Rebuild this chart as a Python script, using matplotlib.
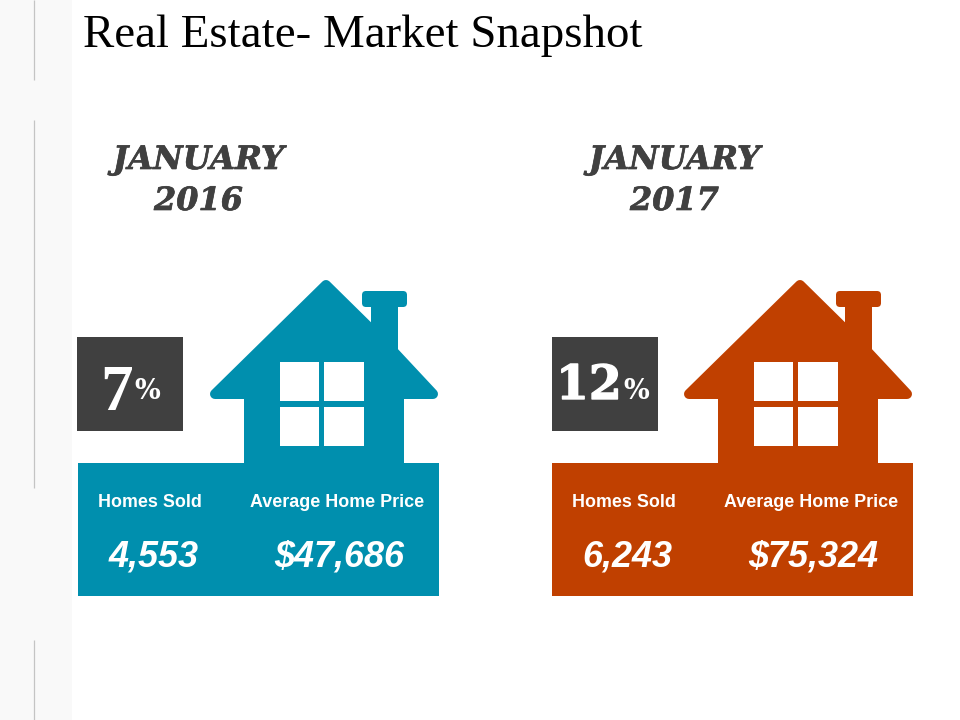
import matplotlib
matplotlib.use("Agg")
import matplotlib.pyplot as plt
from matplotlib.patches import Rectangle, Polygon, FancyBboxPatch
import matplotlib.patheffects as pe

title = "Real Estate- Market Snapshot"
months = ["JANUARY", "JANUARY"]
years = ["2016", "2017"]
percents = ["7", "12"]
homes_sold = ["4,553", "6,243"]
avg_price = ["$47,686", "$75,324"]
metric_labels = ["Homes Sold", "Average Home Price"]
colors = ["#008FAE", "#C04000"]
offsets = [0, 474]
heading_x = [198.5, 674.5]

DARK = "#404040"
SERIF = "Liberation Serif"
WIDE = "DejaVu Serif"
SANS = "Liberation Sans"

fig = plt.figure(figsize=(9.6, 7.2), dpi=100)
ax = fig.add_axes([0, 0, 1, 1])
ax.set_xlim(0, 960)
ax.set_ylim(720, 0)
ax.axis("off")

ax.add_patch(Rectangle((0, 0), 72, 720, fc="#F9F9F9", ec="none"))
for y0, y1 in [(0, 80), (120, 488), (640, 720)]:
    ax.plot([34, 34], [y0, y1], color="#C4C4C4", lw=0.9, solid_capstyle="butt")

ax.text(83, 47, title, family=SERIF, fontsize=33.75, color="black", ha="left", va="baseline")


def heavy(color, w):
    return [pe.withStroke(linewidth=w, foreground=color)]


def panel(i):
    dx = offsets[i]
    c = colors[i]
    ax.text(heading_x[i], 169, months[i], family=WIDE, weight="bold", style="italic",
            fontsize=23.3, color=DARK, ha="center", va="baseline", path_effects=heavy(DARK, 0.5))
    ax.text(heading_x[i], 210, years[i], family=WIDE, weight="bold", style="italic",
            fontsize=23, color=DARK, ha="center", va="baseline", path_effects=heavy(DARK, 0.5))
    # percent box
    bx = 77 + dx + (1 if i else 0)
    ax.add_patch(Rectangle((bx, 337), 106, 94, fc=DARK, ec="none"))
    if i == 0:
        ax.text(100 + dx, 410, percents[i], family=SERIF, weight="bold", fontsize=47, color="white",
                ha="left", va="baseline")
    else:
        ax.text(556, 399, percents[i], family=WIDE, weight="bold", fontsize=34, color="white",
                ha="left", va="baseline", path_effects=heavy("white", 1.0))
    ax.text(134 + dx + (15 if i else 0), 399, "%", family=WIDE, weight="bold", fontsize=19.5,
            color="white", ha="left", va="baseline")
    # house body and roof
    pts = [(326, 285), (391, 349), (433, 394), (399, 394), (399, 468),
           (249, 468), (249, 394), (215, 394)]
    ax.add_patch(Polygon([(x + dx, y) for x, y in pts], closed=True, fc=c, ec=c,
                         lw=7.2, joinstyle="round"))
    # chimney
    ax.add_patch(Rectangle((371 + dx, 300), 27, 60, fc=c, ec="none"))
    ax.add_patch(FancyBboxPatch((366 + dx, 295), 37, 8, boxstyle="round,pad=4,rounding_size=4",
                                fc=c, ec="none"))
    # window
    for wx in (280, 324.3):
        for wy in (362, 406.7):
            ax.add_patch(Rectangle((wx + dx, wy), 39.2, 39, fc="white", ec="none"))
    # info block
    ax.add_patch(Rectangle((78 + dx, 463), 361, 133, fc=c, ec="none"))
    ax.text(150 + dx, 507, metric_labels[0], family=SANS, weight="bold", fontsize=12.9,
            color="white", ha="center", va="baseline")
    ax.text(337 + dx, 507, metric_labels[1], family=SANS, weight="bold", fontsize=12.9,
            color="white", ha="center", va="baseline")
    ax.text(153.5 + dx, 567, homes_sold[i], family=SANS, weight="bold", style="italic",
            fontsize=25.9, color="white", ha="center", va="baseline")
    ax.text(339.5 + dx, 567, avg_price[i], family=SANS, weight="bold", style="italic",
            fontsize=25.9, color="white", ha="center", va="baseline")


for i in range(2):
    panel(i)

fig.savefig("out.png", dpi=100, facecolor="white")
